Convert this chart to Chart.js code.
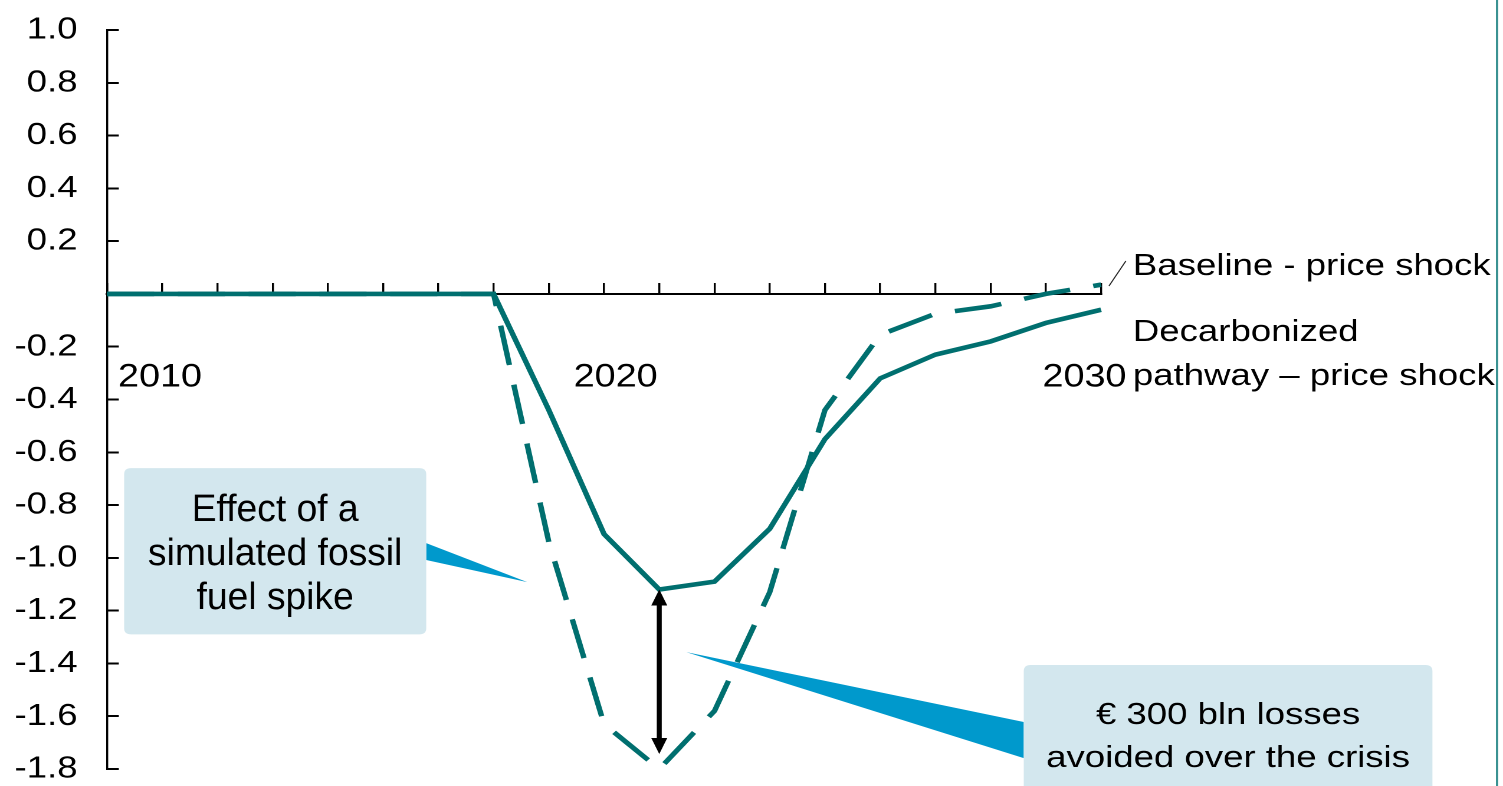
<!DOCTYPE html>
<html>
<head>
<meta charset="utf-8">
<script src="https://cdn.jsdelivr.net/npm/chart.js@4.4.1/dist/chart.umd.min.js"></script>
<style>
  html, body { margin: 0; padding: 0; background: #fff; overflow: hidden; }
</style>
</head>
<body>
<!-- drawing space is 1274 px wide and shown 1503 px wide, which widens the type -->
<canvas id="c" width="1274" height="786" style="display:block;width:1503px;height:786px;"></canvas>
<script>
// Step index along the horizontal axis (one vertex per step)
const periods = [0, 1, 2, 3, 4, 5, 6, 7, 8, 9, 10, 11, 12, 13, 14, 15, 16, 17, 18];

// Decarbonized pathway – price shock (solid line)
const decarbonizedShock = [0, 0, 0, 0, 0, 0, 0, 0, -0.44, -0.91, -1.12, -1.09, -0.89, -0.55, -0.32, -0.23, -0.18, -0.11, -0.06];

// Baseline - price shock (dashed line)
const baselineShock = [0, 0, 0, 0, 0, 0, 0, 0, -0.94, -1.63, -1.80, -1.58, -1.13, -0.44, -0.155, -0.075, -0.047, 0.0, 0.035];

// Year labels under the horizontal axis and where they sit along it
const yearTickLabels = ['2010', '2020', '2030'];
const yearTickAt = [0.96, 9.21, 17.7];

// Vertical scale
const yMin = -1.8, yMax = 1.0, yStep = 0.2;

// Series names written at the right-hand end of the lines
const seriesNames = {
  baseline: ['Baseline - price shock'],
  decarbonized: ['Decarbonized', 'pathway \u2013 price shock']
};

const FONT = '"Liberation Sans", Arial, sans-serif';
const TEAL = '#006f6f';
const BOX_FILL = '#d3e7ee';
const POINTER = '#0099cc';

// Callout boxes, placed in axis units
const callouts = [
  {
    lines: ['Effect of a', 'simulated fossil', 'fuel spike'],
    x0: 0.31, x1: 5.78, y0: -0.66, y1: -1.29,
    size: 38, squeeze: 0.83, baselines: [53, 97, 141],
    pointer: { edge: 'right', from: [-0.944, -1.008], tip: [7.61, -1.092] }
  },
  {
    lines: ['\u20ac 300 bln losses', 'avoided over the crisis'],
    x0: 16.6, x1: 24.0, y0: -1.406, y1: -2.2,
    size: 31, squeeze: 1, baselines: [59, 102],
    pointer: { edge: 'left', from: [-1.622, -1.759], tip: [10.49, -1.357] }
  }
];

function roundRect(ctx, x, y, w, h, r) {
  ctx.beginPath();
  ctx.moveTo(x + r, y);
  ctx.lineTo(x + w - r, y);
  ctx.quadraticCurveTo(x + w, y, x + w, y + r);
  ctx.lineTo(x + w, y + h - r);
  ctx.quadraticCurveTo(x + w, y + h, x + w - r, y + h);
  ctx.lineTo(x + r, y + h);
  ctx.quadraticCurveTo(x, y + h, x, y + h - r);
  ctx.lineTo(x, y + r);
  ctx.quadraticCurveTo(x, y, x + r, y);
  ctx.closePath();
}

const annotations = {
  id: 'annotations',
  beforeDatasetsDraw(chart) {
    const { ctx } = chart;
    const xs = chart.scales.x, ys = chart.scales.y;
    ctx.save();
    callouts.forEach(c => {
      const bx0 = xs.getPixelForValue(c.x0), bx1 = xs.getPixelForValue(c.x1);
      const by0 = ys.getPixelForValue(c.y0), by1 = ys.getPixelForValue(c.y1);
      // wedge pointer
      const ex = c.pointer.edge === 'right' ? bx1 : bx0;
      ctx.fillStyle = POINTER;
      ctx.beginPath();
      ctx.moveTo(ex, ys.getPixelForValue(c.pointer.from[0]));
      ctx.lineTo(xs.getPixelForValue(c.pointer.tip[0]), ys.getPixelForValue(c.pointer.tip[1]));
      ctx.lineTo(ex, ys.getPixelForValue(c.pointer.from[1]));
      ctx.closePath();
      ctx.fill();
      // box
      ctx.fillStyle = BOX_FILL;
      roundRect(ctx, bx0, by0, bx1 - bx0, by1 - by0, 6);
      ctx.fill();
      // text
      ctx.fillStyle = '#000';
      ctx.font = c.size + 'px ' + FONT;
      ctx.textAlign = 'center';
      ctx.textBaseline = 'alphabetic';
      const cx = (bx0 + bx1) / 2;
      c.lines.forEach((t, i) => {
        ctx.save();
        ctx.translate(cx, by0 + c.baselines[i]);
        ctx.scale(c.squeeze, 1);
        ctx.fillText(t, 0, 0);
        ctx.restore();
      });
    });
    ctx.restore();
  },
  afterDatasetsDraw(chart) {
    const { ctx, chartArea } = chart;
    const xs = chart.scales.x, ys = chart.scales.y;
    ctx.save();
    // double-headed arrow across the gap at the deepest point
    const k = decarbonizedShock.indexOf(Math.min(...decarbonizedShock));
    const ax = xs.getPixelForValue(periods[k]);
    const top = ys.getPixelForValue(decarbonizedShock[k]);
    const bottom = ys.getPixelForValue(baselineShock[k]) - 15;
    const hw = 6.8, hl = 16;
    ctx.fillStyle = '#000';
    ctx.fillRect(ax - 2.1, top + hl - 1, 4.2, bottom - top - 2 * hl + 2);
    ctx.beginPath();
    ctx.moveTo(ax, top);
    ctx.lineTo(ax + hw, top + hl);
    ctx.lineTo(ax - hw, top + hl);
    ctx.closePath();
    ctx.fill();
    ctx.beginPath();
    ctx.moveTo(ax, bottom);
    ctx.lineTo(ax + hw, bottom - hl);
    ctx.lineTo(ax - hw, bottom - hl);
    ctx.closePath();
    ctx.fill();

    // series names at the right end
    const lx = chartArea.right + 27;
    ctx.font = '31px ' + FONT;
    ctx.textAlign = 'left';
    ctx.textBaseline = 'alphabetic';
    ctx.fillText(seriesNames.baseline[0], lx, 275);
    ctx.fillText(seriesNames.decarbonized[0], lx, 341);
    ctx.fillText(seriesNames.decarbonized[1], lx, 385);
    // leader from the dashed line end to its name
    ctx.strokeStyle = '#222';
    ctx.lineWidth = 1;
    ctx.beginPath();
    ctx.moveTo(chartArea.right + 6.7, 286);
    ctx.lineTo(chartArea.right + 21, 261);
    ctx.stroke();

    // frame line at the right edge
    ctx.strokeStyle = '#2e8b8b';
    ctx.lineWidth = 1.7;
    ctx.beginPath();
    ctx.moveTo(1268.9, 0);
    ctx.lineTo(1268.9, 786);
    ctx.stroke();
    ctx.restore();
  }
};

new Chart(document.getElementById('c'), {
  type: 'line',
  data: {
    datasets: [
      {
        label: 'Decarbonized pathway \u2013 price shock',
        data: periods.map((p, i) => ({ x: p, y: decarbonizedShock[i] })),
        borderColor: TEAL,
        borderWidth: 4.6,
        pointRadius: 0,
        tension: 0,
        fill: false,
        clip: false,
        order: 1
      },
      {
        label: 'Baseline - price shock',
        data: periods.map((p, i) => ({ x: p, y: baselineShock[i] })),
        borderColor: TEAL,
        borderWidth: 4.6,
        borderDash: [40, 20],
        borderCapStyle: 'butt',
        pointRadius: 0,
        tension: 0,
        fill: false,
        clip: false,
        order: 2
      }
    ]
  },
  options: {
    responsive: false,
    maintainAspectRatio: false,
    devicePixelRatio: 2,
    animation: false,
    events: [],
    layout: { padding: { left: 0, right: 340.7, top: 30, bottom: 17 } },
    plugins: { legend: { display: false }, tooltip: { enabled: false } },
    scales: {
      x: {
        type: 'linear',
        axis: 'x',
        min: periods[0],
        max: periods[periods.length - 1],
        position: { y: 0 },
        afterBuildTicks: s => { s.ticks = periods.map(v => ({ value: v })); },
        ticks: { display: false },
        grid: { drawOnChartArea: false, drawTicks: true, tickLength: -12, color: '#000', lineWidth: 1.7 },
        border: { display: true, color: '#000', width: 2 }
      },
      xYear: {
        type: 'linear',
        axis: 'x',
        min: periods[0],
        max: periods[periods.length - 1],
        position: { y: 0 },
        afterBuildTicks: s => { s.ticks = yearTickAt.map(v => ({ value: v })); },
        ticks: {
          autoSkip: false,
          maxRotation: 0,
          padding: 64.4,
          color: '#000',
          font: { family: FONT, size: 32, lineHeight: 1.2 },
          callback: (v, i) => yearTickLabels[i]
        },
        grid: { display: false, drawTicks: false },
        border: { display: false }
      },
      y: {
        type: 'linear',
        min: yMin,
        max: yMax,
        afterFit: s => { s.width = 90.7; s.paddingTop = 0; s.paddingBottom = 0; },
        ticks: {
          stepSize: yStep,
          padding: 35,
          color: '#000',
          font: { family: FONT, size: 31, lineHeight: 1 },
          callback: v => (Math.abs(v) < 1e-9 ? '' : v.toFixed(1))
        },
        grid: { drawOnChartArea: false, drawTicks: true, tickLength: -10, color: '#000', lineWidth: 2 },
        border: { display: true, color: '#000', width: 1.7 }
      }
    }
  },
  plugins: [annotations]
});
</script>
</body>
</html>
